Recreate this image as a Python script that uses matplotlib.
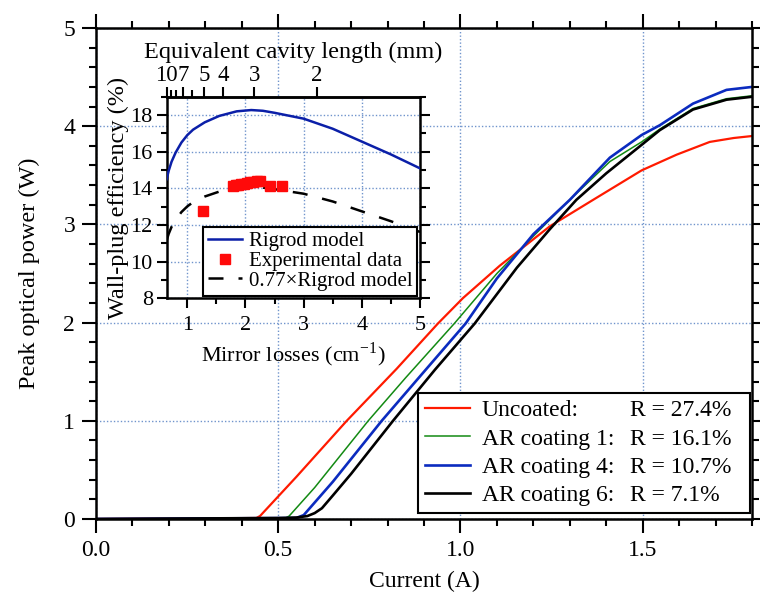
import matplotlib
matplotlib.use("Agg")
import matplotlib.pyplot as plt
import numpy as np
from matplotlib.lines import Line2D
from matplotlib.ticker import MultipleLocator, FixedLocator, NullFormatter

plt.rcParams["font.family"] = ["Liberation Serif", "DejaVu Serif"]
plt.rcParams["mathtext.fontset"] = "stix"

# ---- main plot: peak power vs current ----
i_uncoated = [0, 0.44, 0.45, 0.55, 0.688, 0.825, 0.938, 1.007, 1.108, 1.245, 1.364, 1.497, 1.593, 1.684, 1.75, 1.80]
p_uncoated = [0, 0.01, 0.03, 0.43, 1.0, 1.53, 1.99, 2.25, 2.58, 2.98, 3.25, 3.55, 3.71, 3.84, 3.88, 3.90]

i_ar1 = [0, 0.52, 0.53, 0.60, 0.747, 0.85, 0.983, 1.10, 1.20, 1.30, 1.41, 1.497, 1.547, 1.638, 1.73, 1.80]
p_ar1 = [0, 0.01, 0.03, 0.32, 1.0, 1.44, 1.99, 2.50, 2.88, 3.25, 3.64, 3.84, 3.97, 4.18, 4.28, 4.31]

i_ar4 = [0, 0.55, 0.57, 0.65, 0.784, 0.90, 1.014, 1.10, 1.20, 1.30, 1.41, 1.497, 1.547, 1.638, 1.73, 1.80]
p_ar4 = [0, 0.01, 0.04, 0.38, 1.0, 1.50, 1.99, 2.45, 2.90, 3.25, 3.68, 3.91, 4.01, 4.23, 4.37, 4.40]

i_ar6 = [0, 0.50, 0.55, 0.58, 0.60, 0.62, 0.65, 0.70, 0.815, 0.93, 1.039, 1.155, 1.245, 1.318, 1.40, 1.497, 1.547, 1.638, 1.73, 1.80]
p_ar6 = [0, 0.01, 0.015, 0.03, 0.06, 0.11, 0.24, 0.46, 1.0, 1.52, 1.99, 2.56, 2.95, 3.25, 3.52, 3.81, 3.96, 4.17, 4.27, 4.30]

names = ["Uncoated:", "AR coating 1:", "AR coating 4:", "AR coating 6:"]
rvals = ["R = 27.4%", "R = 16.1%", "R = 10.7%", "R = 7.1%"]

# ---- inset: wall-plug efficiency vs mirror losses ----
alpha_model = [0.646, 0.68, 0.73, 0.80, 0.90, 1.0, 1.1, 1.3, 1.55, 1.85, 2.1, 2.3, 2.5, 3.0, 3.5, 4.0, 4.5, 5.0]
wpe_model = [14.5, 14.95, 15.45, 15.95, 16.5, 16.9, 17.2, 17.6, 17.95, 18.2, 18.27, 18.23, 18.12, 17.8, 17.25, 16.55, 15.85, 15.09]
scale_factor = 0.77

alpha_exp = [1.275, 1.78, 1.83, 1.88, 1.93, 1.98, 2.03, 2.08, 2.13, 2.20, 2.25, 2.42, 2.62]
wpe_exp = [12.78, 14.15, 14.2, 14.2, 14.22, 14.25, 14.3, 14.32, 14.35, 14.4, 14.42, 14.15, 14.13]

cavity_major = [10, 7, 5, 4, 3, 2]
cavity_minor = [9, 8, 6]
CAV_CONST = 6.46  # mirror loss (cm^-1) x cavity length (mm)

GRID = dict(color="#7094cc", lw=1.0, ls=(0, (1, 1.5)))

fig = plt.figure(figsize=(7.6, 5.96), dpi=100)
ax = fig.add_axes([0.1263, 0.1292, 0.8632, 0.8238])

colors = ["#ff1a00", "#138a13", "#0b2bbf", "#000000"]
widths = [1.6, 1.1, 1.9, 1.9]
lines = []
for xs, ys, c, w in zip([i_uncoated, i_ar1, i_ar4, i_ar6],
                        [p_uncoated, p_ar1, p_ar4, p_ar6], colors, widths):
    ln, = ax.plot(xs, ys, color=c, lw=w, solid_joinstyle="round")
    lines.append(ln)

ax.set_xlim(0, 1.8)
ax.set_ylim(0, 5)
ax.xaxis.set_major_locator(MultipleLocator(0.5))
ax.xaxis.set_minor_locator(MultipleLocator(0.1))
ax.yaxis.set_major_locator(MultipleLocator(1))
ax.yaxis.set_minor_locator(MultipleLocator(0.2))
ax.xaxis.set_major_formatter(lambda v, p: f"{v:.1f}")
ax.yaxis.set_major_formatter(lambda v, p: f"{v:.0f}")
ax.tick_params(which="both", direction="out", top=True, right=True, width=1.5, labelsize=17)
ax.tick_params(which="major", length=10, pad=5)
ax.tick_params(which="minor", length=5)
for s in ax.spines.values():
    s.set_linewidth(1.8)
ax.grid(True, which="major", **GRID)
ax.set_xlabel("Current (A)", fontsize=17, labelpad=7)
ax.set_ylabel("Peak optical power (W)", fontsize=17.5, labelpad=17)

blank = [Line2D([], [], linestyle="none") for _ in rvals]
leg = ax.legend(lines + blank, names + [r + "  " for r in rvals], ncol=2, fontsize=17,
                loc="lower right", bbox_to_anchor=(750 / 760, 1 - 513 / 596),
                bbox_transform=fig.transFigure, borderaxespad=0,
                handlelength=1.9, handletextpad=0.5, columnspacing=-1.75,
                labelspacing=0.28, borderpad=0.3, fancybox=False,
                framealpha=1, edgecolor="black")
leg.get_frame().set_linewidth(1.5)

# ---- inset ----
ins = fig.add_axes([0.2193, 0.4995, 0.3333, 0.3383])
ins.plot(alpha_model, wpe_model, color="#0b1fa8", lw=1.8, label="Rigrod model", zorder=3)
ins.plot(alpha_exp, wpe_exp, "s", color="#ff0a0a", ms=7.5, mec="#ff0a0a",
         label="Experimental data", zorder=4)
ins.plot(alpha_model, scale_factor * np.asarray(wpe_model), color="black", lw=1.8,
         ls=(0, (6, 6)), label="0.77×Rigrod model", zorder=3)
ins.set_xlim(0.646, 5)
ins.set_ylim(8, 19)
ins.xaxis.set_major_locator(MultipleLocator(1))
ins.xaxis.set_minor_locator(MultipleLocator(0.5))
ins.yaxis.set_major_locator(MultipleLocator(2))
ins.yaxis.set_minor_locator(MultipleLocator(1))
ins.tick_params(which="both", direction="out", right=True, top=False, width=1.5, labelsize=16)
ins.tick_params(which="major", length=7, pad=3)
ins.tick_params(axis="x", which="major", pad=6)
ins.tick_params(which="minor", length=4)
for s in ins.spines.values():
    s.set_linewidth(1.8)
ins.grid(True, which="major", **GRID)
ins.set_xlabel("Mirror losses (cm$^{\\mathregular{-1}}$)", fontsize=16, labelpad=4)
ins.set_ylabel("Wall-plug efficiency (%)", fontsize=17.5, labelpad=1)

top = ins.secondary_xaxis("top", functions=(lambda a: CAV_CONST / np.asarray(a, float),
                                            lambda L: CAV_CONST / np.asarray(L, float)))
top.xaxis.set_major_locator(FixedLocator(cavity_major))
top.xaxis.set_minor_locator(FixedLocator(cavity_minor))
top.xaxis.set_minor_formatter(NullFormatter())
top.xaxis.set_major_formatter(lambda v, p: f"{v:.0f}")
top.tick_params(which="both", direction="out", width=1.5, labelsize=16.5)
top.tick_params(which="major", length=7, pad=1)
top.tick_params(which="minor", length=5)
top.spines["top"].set_linewidth(1.8)
top.set_xlabel("Equivalent cavity length (mm)", fontsize=17.5, labelpad=5)

ileg = ins.legend(loc="lower right", fontsize=15, borderaxespad=0.12,
                  handlelength=1.65, handletextpad=0.3, labelspacing=0.0,
                  borderpad=0.25, numpoints=1, fancybox=False, framealpha=1,
                  edgecolor="black")
ileg.get_frame().set_linewidth(1.5)
ileg.set_zorder(5)

fig.savefig("out.png", dpi=100, facecolor="white")
